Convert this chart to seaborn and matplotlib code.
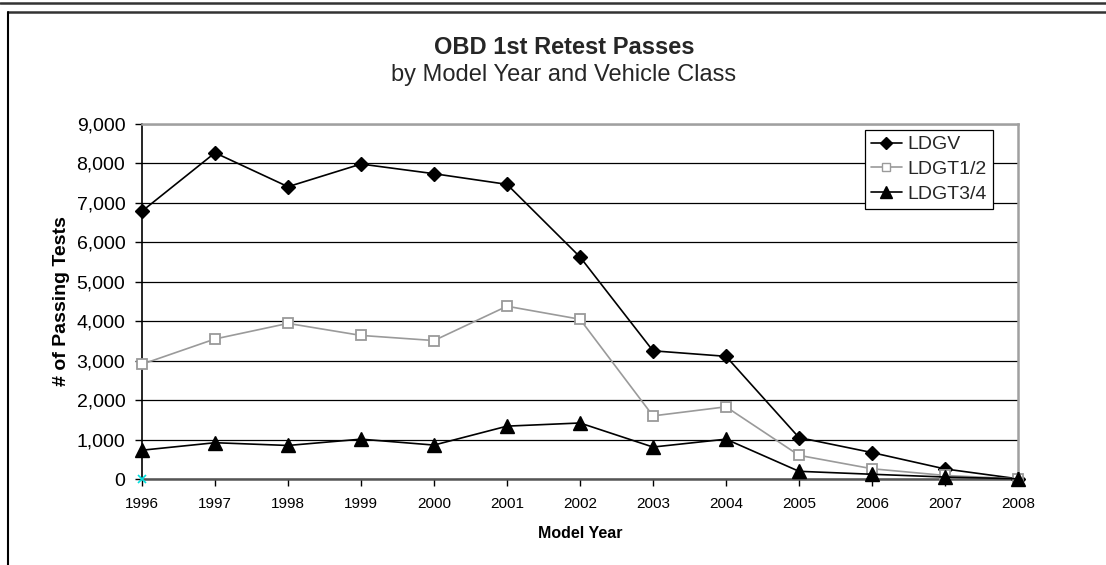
import matplotlib
matplotlib.use("Agg")
import matplotlib.pyplot as plt
import matplotlib.ticker as mticker
from matplotlib.lines import Line2D
import pandas as pd
import seaborn as sns

# Passing-test counts by model year and vehicle class
years = [1996, 1997, 1998, 1999, 2000, 2001, 2002, 2003, 2004, 2005, 2006, 2007, 2008]
ldgv = [6790, 8270, 7410, 7985, 7740, 7470, 5630, 3250, 3110, 1050, 670, 255, 5]
ldgt12 = [2910, 3550, 3945, 3640, 3510, 4380, 4050, 1600, 1830, 600, 260, 90, 5]
ldgt34 = [730, 920, 850, 1010, 860, 1340, 1420, 810, 1010, 195, 120, 50, 5]
series_names = ["LDGV", "LDGT1/2", "LDGT3/4"]
y_ticks = list(range(0, 9001, 1000))

df = pd.DataFrame({"Model Year": years, "LDGV": ldgv, "LDGT1/2": ldgt12, "LDGT3/4": ldgt34})
long = df.melt(id_vars="Model Year", var_name="Class", value_name="Passes")

sns.set_theme(style="white")
plt.rcParams["font.family"] = ["Liberation Sans", "DejaVu Sans"]

W, H = 1106, 565
fig = plt.figure(figsize=(W / 100, H / 100), dpi=100)
ax = fig.add_axes([142 / W, 1 - 479 / H, (1018 - 142) / W, (479 - 124) / H])

styles = {
    "LDGV": dict(color="black", marker="D", markersize=7.5, markerfacecolor="black",
                 markeredgecolor="black"),
    "LDGT1/2": dict(color="#9a9a9a", marker="s", markersize=7.5, markerfacecolor="white",
                    markeredgecolor="#9a9a9a", markeredgewidth=1.3),
    "LDGT3/4": dict(color="black", marker="^", markersize=9.5, markerfacecolor="black",
                    markeredgecolor="black"),
}

for name in series_names:
    sub = long[long["Class"] == name]
    st = styles[name]
    sns.lineplot(data=sub, x="Model Year", y="Passes", ax=ax, color=st["color"],
                 linewidth=1.2, marker=st["marker"], markersize=st["markersize"],
                 markerfacecolor=st["markerfacecolor"], markeredgecolor=st["markeredgecolor"],
                 markeredgewidth=st.get("markeredgewidth", 1.0), clip_on=False,
                 zorder=4, legend=False)

# small cyan cross sitting at the origin
ax.plot([years[0]], [0], marker="x", color="#00e0e0", markersize=6, mew=1.2,
        linestyle="none", clip_on=False, zorder=5)

ax.set_xlim(years[0], years[-1])
ax.set_ylim(0, 9000)
ax.set_xticks(years)
ax.set_yticks(y_ticks)
ax.yaxis.set_major_formatter(mticker.FuncFormatter(lambda v, p: f"{int(v):,}"))
ax.grid(axis="y", color="black", linewidth=0.9)
ax.set_axisbelow(True)

for s in ["top", "right"]:
    ax.spines[s].set_color("#a0a0a0")
    ax.spines[s].set_linewidth(1.8)
ax.spines["left"].set_color("black")
ax.spines["left"].set_linewidth(1.2)
ax.spines["bottom"].set_color("#555555")
ax.spines["bottom"].set_linewidth(1.8)

ax.tick_params(axis="y", direction="out", length=5, width=1, color="black",
               labelsize=14, pad=7, left=True)
ax.tick_params(axis="x", direction="out", length=5, width=1, color="black",
               labelsize=11, pad=8, bottom=True)
for lbl in ax.get_yticklabels() + ax.get_xticklabels():
    lbl.set_color("black")

ax.set_xlabel("Model Year", fontsize=11.5, fontweight="bold", labelpad=11, color="black")
ax.set_ylabel("# of Passing Tests", fontsize=14, fontweight="bold", labelpad=5, color="black")

handles = [Line2D([], [], color=styles[n]["color"], linewidth=1.2, marker=styles[n]["marker"],
                  markersize=styles[n]["markersize"] * 0.85,
                  markerfacecolor=styles[n]["markerfacecolor"],
                  markeredgecolor=styles[n]["markeredgecolor"]) for n in series_names]
leg = ax.legend(handles, series_names, loc="upper right",
                bbox_to_anchor=((993 - 142) / 876, 1 - (130 - 124) / 355),
                borderaxespad=0, fontsize=14, frameon=True, fancybox=False,
                handlelength=1.6, handletextpad=0.3, labelspacing=0.37,
                borderpad=0.3)
leg.get_frame().set_edgecolor("black")
leg.get_frame().set_linewidth(0.9)
leg.get_frame().set_facecolor("white")
leg.get_frame().set_alpha(1)
leg.set_zorder(10)

fig.text(564 / W, 1 - 47 / H, "OBD 1st Retest Passes", ha="center", va="center",
         fontsize=17, fontweight="bold")
fig.text(564 / W, 1 - 75 / H, "by Model Year and Vehicle Class", ha="center", va="center",
         fontsize=17)

# outer chart frame
fig.add_artist(Line2D([0, 1], [1 - 2.5 / H, 1 - 2.5 / H], transform=fig.transFigure,
                      color="#333333", linewidth=1.8))
fig.add_artist(Line2D([7.5 / W, 1], [1 - 11.5 / H, 1 - 11.5 / H], transform=fig.transFigure,
                      color="#333333", linewidth=1.8))
fig.add_artist(Line2D([7.5 / W, 7.5 / W], [0, 1 - 11.5 / H], transform=fig.transFigure,
                      color="black", linewidth=1.5))

fig.savefig("out.png", dpi=100)
